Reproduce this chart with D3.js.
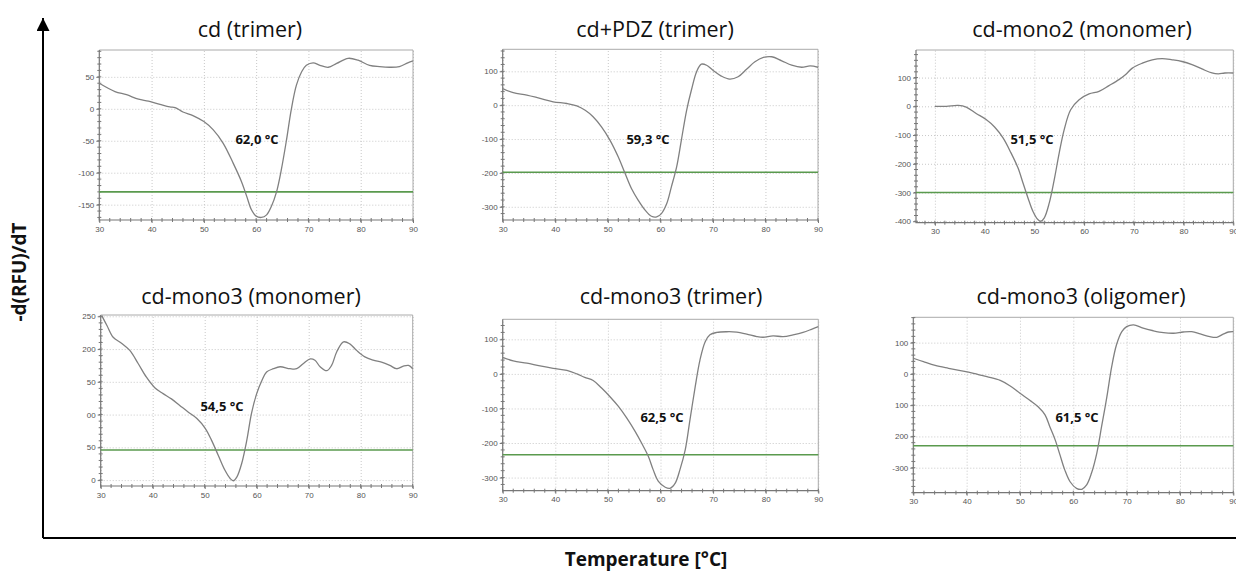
<!DOCTYPE html>
<html>
<head>
<meta charset="utf-8">
<script src="https://cdn.jsdelivr.net/npm/d3@7"></script>
<style>
  body { margin: 0; background: #fff; }
  svg { display: block; }
  .tick text { font-family: "Liberation Sans", Arial, sans-serif; font-size: 8px; fill: #555; }
  .title { font-family: "Open Sans", Lato, sans-serif; font-size: 21.5px; fill: #111; }
  .tm { font-family: "Open Sans", Lato, sans-serif; font-size: 13px; font-weight: bold; fill: #111; }
  .big { font-family: "Open Sans", Lato, sans-serif; font-size: 19px; font-weight: bold; fill: #111; }
</style>
</head>
<body>
<svg id="chart" width="1236" height="572"></svg>
<script>
// melt curves, [temperature, -d(RFU)/dT]
var cdTrimer = [[30,40],[33,27],[35.2,22],[37.5,15],[39.4,12],[41.6,7],[43.5,3],[44.5,2],[46,-5],[48,-11],[50,-20],[51.8,-33],[53.7,-54],[55.6,-85],[57.2,-114],[58.2,-137],[59.1,-158],[60,-168],[61,-170],[62,-166],[62.9,-153],[63.9,-130],[64.8,-96],[65.8,-49],[66.7,-2],[67.7,37],[68.7,58],[69.6,68],[70.9,72],[72.2,68],[73.8,65],[75.4,71],[77.6,79],[79.5,76],[81.7,68],[83.6,66],[85.5,65],[87.4,66],[89,72],[90,75]];
var cdPdzTrimer = [[30,49],[32,37],[34.6,30],[37.1,20],[39.6,10],[42.2,5],[44.1,-2],[45.7,-15],[47.2,-34],[48.8,-64],[50.4,-103],[52,-153],[53.3,-202],[54.5,-246],[55.8,-281],[57.1,-310],[58.3,-328],[59.3,-330],[60.2,-320],[61.2,-291],[62.1,-241],[63.1,-182],[64,-103],[65,-15],[65.9,44],[66.9,99],[67.8,121],[68.8,118],[70,103],[71.6,86],[73.2,77],[74.8,84],[76.4,106],[78,128],[79.6,141],[81.2,143],[83.1,131],[85,118],[86.9,112],[88.5,116],[90,112]];
var mono2Monomer = [[30,0],[32.3,0],[34.7,3],[36.3,-3],[38.3,-25],[40.3,-46],[42,-72],[43.7,-110],[45.3,-162],[46.7,-214],[47.7,-266],[48.7,-318],[49.7,-365],[50.7,-394],[51.3,-400],[52,-388],[53,-336],[54,-255],[55,-162],[56,-81],[57.3,-12],[59,23],[61,43],[63,52],[65,72],[67,93],[68.3,110],[69.7,133],[71.7,150],[73.7,162],[75.7,166],[77.7,162],[79.7,156],[81.7,145],[83.7,130],[85.7,116],[87,113],[88.3,116],[90,116]];
var mono3Monomer = [[30.2,251],[31.2,236],[32.4,218],[34,209],[35.6,198],[37.2,178],[38.8,157],[40.4,141],[42,132],[43.6,124],[45.2,114],[46.8,104],[48.5,94],[50.1,79],[51.3,61],[52.6,38],[53.9,15],[54.9,2.5],[55.5,-1],[56.2,5],[57.1,25],[58.1,61],[59,102],[60,132],[61,152],[61.9,165],[63.2,170],[64.5,173],[66.4,170],[67.7,170],[69,178],[70.3,185],[71.2,183],[72.2,173],[73.5,167],[74.4,175],[75.4,196],[76.7,211],[77.9,208],[79.2,198],[80.8,188],[82.4,183],[84,180],[85.6,175],[86.9,170],[88.2,174],[89.2,175],[90,170]];
var mono3Trimer = [[30,48],[32,38],[34.6,31],[37.1,23],[39.6,16],[42.2,10],[44.1,0],[45.6,-10],[47.2,-19],[48.8,-41],[50.4,-66],[52,-94],[53.6,-128],[55.2,-167],[56.4,-200],[57.7,-239],[58.6,-277],[59.6,-311],[60.9,-328],[61.8,-331],[62.8,-316],[63.7,-277],[64.7,-220],[65.6,-133],[66.6,-37],[67.5,40],[68.5,93],[69.4,113],[70.7,120],[72.6,122],[74.5,121],[76.4,115],[78.3,108],[79.5,106],[81.4,110],[83.3,108],[85.2,113],[87.1,120],[88.7,129],[90,137]];
var mono3Oligomer = [[30,50],[31.9,39],[34.1,27],[36.6,18],[39.1,10],[41.3,2],[43.8,-9],[46.3,-21],[48.1,-38],[50,-62],[51.9,-85],[53.4,-105],[54.7,-131],[55.6,-169],[56.6,-211],[57.5,-259],[58.4,-307],[59.4,-345],[60.6,-366],[61.6,-369],[62.5,-355],[63.4,-318],[64.4,-254],[65.3,-169],[66.3,-73],[67.2,23],[68.1,93],[69.1,135],[70,151],[71.3,157],[73.1,146],[75,138],[76.9,132],[78.8,130],[80.6,134],[82.2,135],[83.8,128],[85.6,119],[86.9,117],[88.1,127],[89.1,134],[90,135]];

var titles = ['cd (trimer)', 'cd+PDZ (trimer)', 'cd-mono2 (monomer)', 'cd-mono3 (monomer)', 'cd-mono3 (trimer)', 'cd-mono3 (oligomer)'];
var meltLabels = ['62,0 °C', '59,3 °C', '51,5 °C', '54,5 °C', '62,5 °C', '61,5 °C'];
var thresholds = [-130, -198, -300, 46, -234, -230];
var xTicks = [30, 40, 50, 60, 70, 80, 90];
var yTicks = [
	[-150, -100, -50, 0, 50],
	[-300, -200, -100, 0, 100],
	[-400, -300, -200, -100, 0, 100],
	[0, 50, 100, 150, 200, 250],
	[-300, -200, -100, 0, 100],
	[-300, -200, -100, 0, 100]
];
// the labels as they show in the picture (some are cut at the left)
var yTickLabels = [
	['-150', '-100', '-50', '0', '50'],
	['-300', '-200', '-100', '0', '100'],
	['-400', '-300', '-200', '-100', '0', '100'],
	['0', '50', '00', '50', '200', '250'],
	['-300', '-200', '-100', '0', '100'],
	['-300', '200', '100', '0', '100']
];
var xDomains = [[30, 90], [30, 90], [26.2, 90], [30, 90], [30, 90], [30, 90]];
var yDomains = [[-174, 92], [-339, 165], [-405, 196], [-9, 252], [-338, 158], [-380, 181]];
var series = [cdTrimer, cdPdzTrimer, mono2Monomer, mono3Monomer, mono3Trimer, mono3Oligomer];

// layout: plot frame in px [left, top, right, bottom], title centre, Tm label centre
var frames = [
	[99.3, 50, 413, 220],
	[502.7, 49.3, 818, 220],
	[916, 50, 1233.3, 222.7],
	[100.7, 315, 412.7, 486],
	[502.7, 319.3, 818.3, 490.7],
	[913.3, 317.3, 1233.3, 492.7]
];
var titlePos = [[250, 30], [655, 30], [1082, 30], [251, 297], [671, 297], [1081, 297]];
var tmPos = [[257, 139], [648, 139], [1032, 139], [222, 406], [662, 417], [1077, 417]];

var svg = d3.select('#chart');

var defs = svg.append('defs');
defs.append('marker')
	.attr('id', 'arrow')
	.attr('viewBox', '0 0 10 10')
	.attr('refX', 10).attr('refY', 5)
	.attr('markerWidth', 7).attr('markerHeight', 6.5)
	.attr('markerUnits', 'strokeWidth')
	.attr('orient', 'auto')
	.append('path')
	.attr('d', 'M0,0L10,5L0,10Z')
	.attr('fill', '#000');

// big frame axes
svg.append('line')
	.attr('x1', 43).attr('y1', 538).attr('x2', 43).attr('y2', 18)
	.attr('stroke', '#000').attr('stroke-width', 2)
	.attr('marker-end', 'url(#arrow)');
svg.append('line')
	.attr('x1', 43).attr('y1', 538).attr('x2', 1250).attr('y2', 538)
	.attr('stroke', '#000').attr('stroke-width', 2)
	.attr('marker-end', 'url(#arrow)');

svg.append('text')
	.attr('class', 'big')
	.attr('transform', 'translate(26,272) rotate(-90)')
	.attr('text-anchor', 'middle')
	.text('-d(RFU)/dT');
svg.append('text')
	.attr('class', 'big')
	.attr('x', 646).attr('y', 566)
	.attr('text-anchor', 'middle')
	.text('Temperature [°C]');

function drawPanel(i) {
	var f = frames[i];
	var x = d3.scaleLinear().domain(xDomains[i]).range([f[0], f[2]]);
	var y = d3.scaleLinear().domain(yDomains[i]).range([f[3], f[1]]);
	var g = svg.append('g');
	var w = f[2] - f[0], h = f[3] - f[1];

	// grid
	g.append('g')
		.attr('transform', 'translate(0,' + f[3] + ')')
		.call(d3.axisBottom(x).tickValues(xTicks).tickSize(-h).tickFormat(''))
		.call(function (s) {
			s.select('.domain').remove();
			s.selectAll('line').attr('stroke', '#c8c8c8').attr('stroke-dasharray', '1,2');
		});
	g.append('g')
		.attr('transform', 'translate(' + f[0] + ',0)')
		.call(d3.axisLeft(y).tickValues(yTicks[i]).tickSize(-w).tickFormat(''))
		.call(function (s) {
			s.select('.domain').remove();
			s.selectAll('line').attr('stroke', '#c8c8c8').attr('stroke-dasharray', '1,2');
		});

	// frame
	g.append('path')
		.attr('d', 'M' + f[0] + ',' + f[1] + 'H' + f[2] + 'V' + f[3])
		.attr('fill', 'none').attr('stroke', '#aaa').attr('stroke-width', 1);
	g.append('path')
		.attr('d', 'M' + f[0] + ',' + f[1] + 'V' + f[3] + 'H' + f[2])
		.attr('fill', 'none').attr('stroke', '#777').attr('stroke-width', 1.2);

	// minor ticks crossing the frame
	var xd = xDomains[i];
	var xMinor = d3.range(Math.ceil(xd[0] / 2) * 2, xd[1] + 0.01, 2);
	g.selectAll('.xm').data(xMinor).enter().append('line')
		.attr('x1', function (d) { return x(d); }).attr('x2', function (d) { return x(d); })
		.attr('y1', f[3] - 2).attr('y2', f[3] + 2)
		.attr('stroke', '#777').attr('stroke-width', 1);
	var step = (yTicks[i][1] - yTicks[i][0]) / 5;
	var yd = yDomains[i];
	var yMinor = d3.range(Math.ceil(yd[0] / step) * step, yd[1], step);
	g.selectAll('.ym').data(yMinor).enter().append('line')
		.attr('y1', function (d) { return y(d); }).attr('y2', function (d) { return y(d); })
		.attr('x1', f[0] - 2).attr('x2', f[0] + 2)
		.attr('stroke', '#777').attr('stroke-width', 1);

	// tick labels
	var labels = yTickLabels[i];
	g.append('g')
		.attr('transform', 'translate(' + f[0] + ',0)')
		.call(d3.axisLeft(y).tickValues(yTicks[i]).tickSize(3).tickPadding(2)
			.tickFormat(function (d, k) { return labels[k]; }))
		.call(function (s) {
			s.select('.domain').remove();
			s.selectAll('line').attr('stroke', '#777');
		});
	g.append('g')
		.attr('transform', 'translate(0,' + f[3] + ')')
		.call(d3.axisBottom(x).tickValues(xTicks).tickSize(3).tickPadding(3))
		.call(function (s) {
			s.select('.domain').remove();
			s.selectAll('line').attr('stroke', '#777');
		});

	// threshold
	g.append('line')
		.attr('x1', f[0]).attr('x2', f[2])
		.attr('y1', y(thresholds[i])).attr('y2', y(thresholds[i]))
		.attr('stroke', '#5a9a4e').attr('stroke-width', 1.6);

	// curve
	var line = d3.line()
		.x(function (d) { return x(d[0]); })
		.y(function (d) { return y(d[1]); })
		.curve(d3.curveCatmullRom);
	g.append('path')
		.datum(series[i])
		.attr('d', line)
		.attr('fill', 'none')
		.attr('stroke', '#808080')
		.attr('stroke-width', 1.3);

	g.append('text')
		.attr('class', 'tm')
		.attr('x', tmPos[i][0]).attr('y', tmPos[i][1] + 5)
		.attr('text-anchor', 'middle')
		.text(meltLabels[i]);

	svg.append('text')
		.attr('class', 'title')
		.attr('x', titlePos[i][0]).attr('y', titlePos[i][1] + 7)
		.attr('text-anchor', 'middle')
		.text(titles[i]);
}

for (var i = 0; i < 6; i++) {
	drawPanel(i);
}
</script>
</body>
</html>
